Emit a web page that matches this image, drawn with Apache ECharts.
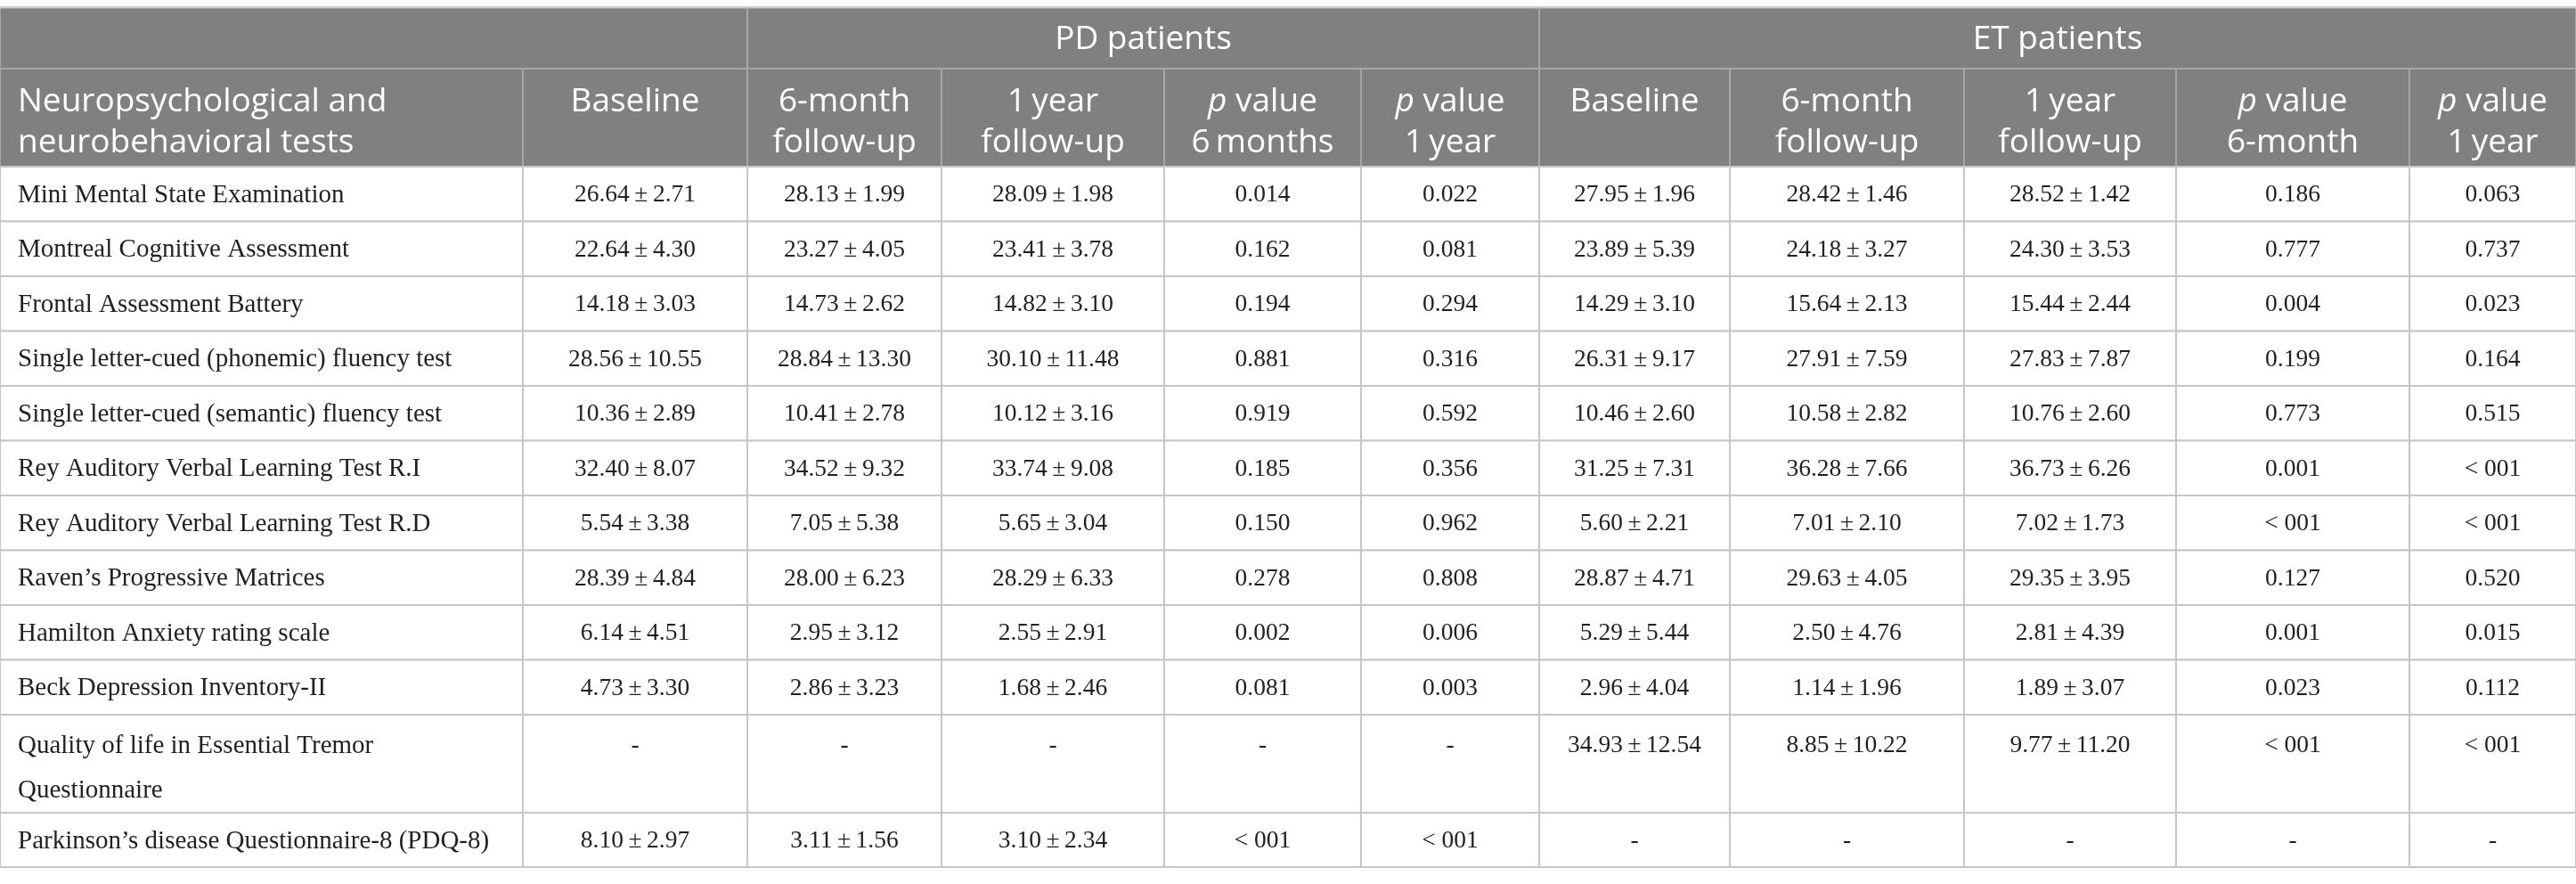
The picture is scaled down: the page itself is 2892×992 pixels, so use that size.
<!DOCTYPE html>
<html>
<head>
<meta charset="utf-8">
<script src="https://cdn.jsdelivr.net/npm/echarts@6/dist/echarts.min.js"></script>
<style>
  html, body { margin: 0; padding: 0; background: #fff; }
  #chart { width: 2892px; height: 992px; }
</style>
</head>
<body>
<div id="chart"></div>
<script>
// table content
const tests = [
  'Mini Mental State Examination',
  'Montreal Cognitive Assessment',
  'Frontal Assessment Battery',
  'Single letter-cued (phonemic) fluency test',
  'Single letter-cued (semantic) fluency test',
  'Rey Auditory Verbal Learning Test R.I',
  'Rey Auditory Verbal Learning Test R.D',
  'Raven\u2019s Progressive Matrices',
  'Hamilton Anxiety rating scale',
  'Beck Depression Inventory-II',
  'Quality of life in Essential Tremor\nQuestionnaire',
  'Parkinson\u2019s disease Questionnaire-8 (PDQ-8)'
];

// mean, sd
const pdBaseline = [[26.64, 2.71], [22.64, 4.30], [14.18, 3.03], [28.56, 10.55], [10.36, 2.89], [32.40, 8.07],
  [5.54, 3.38], [28.39, 4.84], [6.14, 4.51], [4.73, 3.30], null, [8.10, 2.97]];
const pdSixMonth = [[28.13, 1.99], [23.27, 4.05], [14.73, 2.62], [28.84, 13.30], [10.41, 2.78], [34.52, 9.32],
  [7.05, 5.38], [28.00, 6.23], [2.95, 3.12], [2.86, 3.23], null, [3.11, 1.56]];
const pdOneYear = [[28.09, 1.98], [23.41, 3.78], [14.82, 3.10], [30.10, 11.48], [10.12, 3.16], [33.74, 9.08],
  [5.65, 3.04], [28.29, 6.33], [2.55, 2.91], [1.68, 2.46], null, [3.10, 2.34]];
const pdP6 = ['0.014', '0.162', '0.194', '0.881', '0.919', '0.185', '0.150', '0.278', '0.002', '0.081', '-', '< 001'];
const pdP12 = ['0.022', '0.081', '0.294', '0.316', '0.592', '0.356', '0.962', '0.808', '0.006', '0.003', '-', '< 001'];

const etBaseline = [[27.95, 1.96], [23.89, 5.39], [14.29, 3.10], [26.31, 9.17], [10.46, 2.60], [31.25, 7.31],
  [5.60, 2.21], [28.87, 4.71], [5.29, 5.44], [2.96, 4.04], [34.93, 12.54], null];
const etSixMonth = [[28.42, 1.46], [24.18, 3.27], [15.64, 2.13], [27.91, 7.59], [10.58, 2.82], [36.28, 7.66],
  [7.01, 2.10], [29.63, 4.05], [2.50, 4.76], [1.14, 1.96], [8.85, 10.22], null];
const etOneYear = [[28.52, 1.42], [24.30, 3.53], [15.44, 2.44], [27.83, 7.87], [10.76, 2.60], [36.73, 6.26],
  [7.02, 1.73], [29.35, 3.95], [2.81, 4.39], [1.89, 3.07], [9.77, 11.20], null];
const etP6 = ['0.186', '0.777', '0.004', '0.199', '0.773', '0.001', '< 001', '0.127', '0.001', '0.023', '< 001', '-'];
const etP12 = ['0.063', '0.737', '0.023', '0.164', '0.515', '< 001', '< 001', '0.520', '0.015', '0.112', '< 001', '-'];

const groupLabels = ['', 'PD patients', 'ET patients'];
const colLabels = [
  'Neuropsychological and\nneurobehavioral tests',
  'Baseline', '6-month\nfollow-up', '1\u2009year\nfollow-up', '{i|p} value\n6\u2009months', '{i|p} value\n1\u2009year',
  'Baseline', '6-month\nfollow-up', '1\u2009year\nfollow-up', '{i|p} value\n6-month', '{i|p} value\n1\u2009year'
];

const bodyCols = [pdBaseline, pdSixMonth, pdOneYear, pdP6, pdP12, etBaseline, etSixMonth, etOneYear, etP6, etP12];

// layout (pixels in the 2892 x 992 frame)
const colEdges = [0, 587, 839, 1057, 1307, 1528, 1728, 1942, 2205, 2443, 2705, 2892];
const rowEdges = [187, 248.5, 310, 371.5, 433, 494.5, 556, 617.5, 679, 740.5, 802, 912, 973];
const headEdges = [9, 77, 187];
const groupSpans = [[0, 2], [2, 6], [6, 11]];

const headFont = 'Open Sans';
const bodyFont = 'Liberation Serif';

function cellText (c, r) {
  if (c === 0) return tests[r];
  const v = bodyCols[c - 1][r];
  if (v === null) return '-';
  if (typeof v === 'string') return v;
  return v[0].toFixed(2) + '\u2009\u00b1\u2009' + v[1].toFixed(2);
}

const headData = [];
groupSpans.forEach(function (s, i) { headData.push([s[0], s[1], 0, i]); });
colLabels.forEach(function (l, i) { headData.push([i, i + 1, 1, i]); });

const bodyData = [];
tests.forEach(function (t, r) {
  for (let c = 0; c < colEdges.length - 1; c++) bodyData.push([c, r]);
});

const chart = echarts.init(document.getElementById('chart'));
chart.setOption({
  backgroundColor: '#fff',
  animation: false,
  grid: { left: 0, right: 0, top: 0, bottom: 0 },
  xAxis: { type: 'value', min: 0, max: 2892, show: false },
  yAxis: { type: 'value', min: 0, max: 992, inverse: true, show: false },
  series: [
    {
      type: 'custom',
      clip: false,
      data: headData,
      encode: { x: [0, 1], y: 2 },
      renderItem: function (params, api) {
        const c0 = api.value(0), c1 = api.value(1), lvl = api.value(2), idx = api.value(3);
        const p0 = api.coord([colEdges[c0], headEdges[lvl]]);
        const p1 = api.coord([colEdges[c1], headEdges[lvl + 1]]);
        const text = lvl === 0 ? groupLabels[idx] : colLabels[idx];
        const left = lvl === 1 && idx === 0;
        const children = [{
          type: 'rect',
          shape: { x: p0[0], y: p0[1], width: p1[0] - p0[0], height: p1[1] - p0[1] },
          style: { fill: '#808080', stroke: '#a6a6a6', lineWidth: 2 }
        }];
        if (lvl === 0) {
          children.push({
            type: 'line',
            shape: { x1: p0[0], y1: p0[1] - 1, x2: p1[0], y2: p0[1] - 1 },
            style: { stroke: '#cccccc', lineWidth: 2 }
          });
        }
        children.push({
          type: 'text',
          x: left ? p0[0] + 20 : (p0[0] + p1[0]) / 2,
          y: lvl === 0 ? (p0[1] + p1[1]) / 2 + 1 : p0[1] + 37 - 23,
          style: {
            text: text,
            fill: '#fff',
            fontFamily: headFont,
            fontSize: 37,
            lineHeight: 46,
            align: left ? 'left' : 'center',
            verticalAlign: lvl === 0 ? 'middle' : 'top',
            rich: {
              i: { fontStyle: 'italic', fontFamily: headFont, fontSize: 37, lineHeight: 46, fill: '#fff' }
            }
          }
        });
        return { type: 'group', children: children };
      }
    },
    {
      type: 'custom',
      clip: false,
      data: bodyData,
      renderItem: function (params, api) {
        const c = api.value(0), r = api.value(1);
        const p0 = api.coord([colEdges[c], rowEdges[r]]);
        const p1 = api.coord([colEdges[c + 1], rowEdges[r + 1]]);
        const tall = p1[1] - p0[1] > 80;
        return {
          type: 'group',
          children: [
            {
              type: 'rect',
              shape: { x: p0[0], y: p0[1], width: p1[0] - p0[0], height: p1[1] - p0[1] },
              style: { fill: '#fff', stroke: '#c6c6c6', lineWidth: 2 }
            },
            {
              type: 'text',
              x: c === 0 ? p0[0] + 20 : (p0[0] + p1[0]) / 2,
              y: tall ? p0[1] + 35 - 25 : (p0[1] + p1[1]) / 2 + 1.5,
              style: {
                text: cellText(c, r),
                fill: '#231f20',
                fontFamily: bodyFont,
                fontSize: c === 0 ? 29 : 27.5,
                lineHeight: 50,
                align: c === 0 ? 'left' : 'center',
                verticalAlign: tall ? 'top' : 'middle'
              }
            }
          ]
        };
      }
    }
  ]
});
</script>
</body>
</html>
